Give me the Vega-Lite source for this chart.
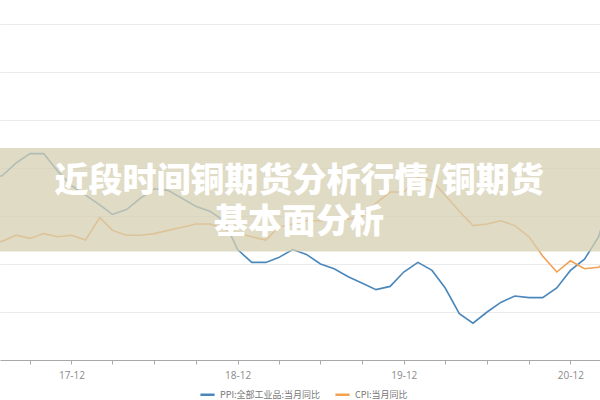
{
  "$schema": "https://vega.github.io/schema/vega-lite/v6.json",
  "width": 600,
  "height": 336,
  "autosize": "none",
  "padding": {"top": 24, "bottom": 40, "left": 0, "right": 0},
  "background": "white",
  "config": {"view": {"stroke": null}},
  "datasets": {
    "series": [
      {"date": "2017/06/01", "s": "PPI:全部工业品:当月同比", "v": 5.5},
      {"date": "2017/07/01", "s": "PPI:全部工业品:当月同比", "v": 5.5},
      {"date": "2017/08/01", "s": "PPI:全部工业品:当月同比", "v": 6.3},
      {"date": "2017/09/01", "s": "PPI:全部工业品:当月同比", "v": 6.9},
      {"date": "2017/10/01", "s": "PPI:全部工业品:当月同比", "v": 6.9},
      {"date": "2017/11/01", "s": "PPI:全部工业品:当月同比", "v": 5.8},
      {"date": "2017/12/01", "s": "PPI:全部工业品:当月同比", "v": 4.9},
      {"date": "2018/01/01", "s": "PPI:全部工业品:当月同比", "v": 4.3},
      {"date": "2018/02/01", "s": "PPI:全部工业品:当月同比", "v": 3.7},
      {"date": "2018/03/01", "s": "PPI:全部工业品:当月同比", "v": 3.1},
      {"date": "2018/04/01", "s": "PPI:全部工业品:当月同比", "v": 3.4},
      {"date": "2018/05/01", "s": "PPI:全部工业品:当月同比", "v": 4.1},
      {"date": "2018/06/01", "s": "PPI:全部工业品:当月同比", "v": 4.7},
      {"date": "2018/07/01", "s": "PPI:全部工业品:当月同比", "v": 4.6},
      {"date": "2018/08/01", "s": "PPI:全部工业品:当月同比", "v": 4.1},
      {"date": "2018/09/01", "s": "PPI:全部工业品:当月同比", "v": 3.6},
      {"date": "2018/10/01", "s": "PPI:全部工业品:当月同比", "v": 3.3},
      {"date": "2018/11/01", "s": "PPI:全部工业品:当月同比", "v": 2.7},
      {"date": "2018/12/01", "s": "PPI:全部工业品:当月同比", "v": 0.9},
      {"date": "2019/01/01", "s": "PPI:全部工业品:当月同比", "v": 0.1},
      {"date": "2019/02/01", "s": "PPI:全部工业品:当月同比", "v": 0.1},
      {"date": "2019/03/01", "s": "PPI:全部工业品:当月同比", "v": 0.4},
      {"date": "2019/04/01", "s": "PPI:全部工业品:当月同比", "v": 0.9},
      {"date": "2019/05/01", "s": "PPI:全部工业品:当月同比", "v": 0.6},
      {"date": "2019/06/01", "s": "PPI:全部工业品:当月同比", "v": 0.0},
      {"date": "2019/07/01", "s": "PPI:全部工业品:当月同比", "v": -0.3},
      {"date": "2019/08/01", "s": "PPI:全部工业品:当月同比", "v": -0.8},
      {"date": "2019/09/01", "s": "PPI:全部工业品:当月同比", "v": -1.2},
      {"date": "2019/10/01", "s": "PPI:全部工业品:当月同比", "v": -1.6},
      {"date": "2019/11/01", "s": "PPI:全部工业品:当月同比", "v": -1.4},
      {"date": "2019/12/01", "s": "PPI:全部工业品:当月同比", "v": -0.5},
      {"date": "2020/01/01", "s": "PPI:全部工业品:当月同比", "v": 0.1},
      {"date": "2020/02/01", "s": "PPI:全部工业品:当月同比", "v": -0.4},
      {"date": "2020/03/01", "s": "PPI:全部工业品:当月同比", "v": -1.5},
      {"date": "2020/04/01", "s": "PPI:全部工业品:当月同比", "v": -3.1},
      {"date": "2020/05/01", "s": "PPI:全部工业品:当月同比", "v": -3.7},
      {"date": "2020/06/01", "s": "PPI:全部工业品:当月同比", "v": -3.0},
      {"date": "2020/07/01", "s": "PPI:全部工业品:当月同比", "v": -2.4},
      {"date": "2020/08/01", "s": "PPI:全部工业品:当月同比", "v": -2.0},
      {"date": "2020/09/01", "s": "PPI:全部工业品:当月同比", "v": -2.1},
      {"date": "2020/10/01", "s": "PPI:全部工业品:当月同比", "v": -2.1},
      {"date": "2020/11/01", "s": "PPI:全部工业品:当月同比", "v": -1.5},
      {"date": "2020/12/01", "s": "PPI:全部工业品:当月同比", "v": -0.4},
      {"date": "2021/01/01", "s": "PPI:全部工业品:当月同比", "v": 0.3},
      {"date": "2021/02/01", "s": "PPI:全部工业品:当月同比", "v": 1.7},
      {"date": "2021/03/01", "s": "PPI:全部工业品:当月同比", "v": 4.4},
      {"date": "2017/06/01", "s": "CPI:当月同比", "v": 1.5},
      {"date": "2017/07/01", "s": "CPI:当月同比", "v": 1.4},
      {"date": "2017/08/01", "s": "CPI:当月同比", "v": 1.8},
      {"date": "2017/09/01", "s": "CPI:当月同比", "v": 1.6},
      {"date": "2017/10/01", "s": "CPI:当月同比", "v": 1.9},
      {"date": "2017/11/01", "s": "CPI:当月同比", "v": 1.7},
      {"date": "2017/12/01", "s": "CPI:当月同比", "v": 1.8},
      {"date": "2018/01/01", "s": "CPI:当月同比", "v": 1.5},
      {"date": "2018/02/01", "s": "CPI:当月同比", "v": 2.9},
      {"date": "2018/03/01", "s": "CPI:当月同比", "v": 2.1},
      {"date": "2018/04/01", "s": "CPI:当月同比", "v": 1.8},
      {"date": "2018/05/01", "s": "CPI:当月同比", "v": 1.8},
      {"date": "2018/06/01", "s": "CPI:当月同比", "v": 1.9},
      {"date": "2018/07/01", "s": "CPI:当月同比", "v": 2.1},
      {"date": "2018/08/01", "s": "CPI:当月同比", "v": 2.3},
      {"date": "2018/09/01", "s": "CPI:当月同比", "v": 2.5},
      {"date": "2018/10/01", "s": "CPI:当月同比", "v": 2.5},
      {"date": "2018/11/01", "s": "CPI:当月同比", "v": 2.2},
      {"date": "2018/12/01", "s": "CPI:当月同比", "v": 1.9},
      {"date": "2019/01/01", "s": "CPI:当月同比", "v": 1.7},
      {"date": "2019/02/01", "s": "CPI:当月同比", "v": 1.5},
      {"date": "2019/03/01", "s": "CPI:当月同比", "v": 2.3},
      {"date": "2019/04/01", "s": "CPI:当月同比", "v": 2.5},
      {"date": "2019/05/01", "s": "CPI:当月同比", "v": 2.7},
      {"date": "2019/06/01", "s": "CPI:当月同比", "v": 2.7},
      {"date": "2019/07/01", "s": "CPI:当月同比", "v": 2.8},
      {"date": "2019/08/01", "s": "CPI:当月同比", "v": 2.8},
      {"date": "2019/09/01", "s": "CPI:当月同比", "v": 3.0},
      {"date": "2019/10/01", "s": "CPI:当月同比", "v": 3.8},
      {"date": "2019/11/01", "s": "CPI:当月同比", "v": 4.5},
      {"date": "2019/12/01", "s": "CPI:当月同比", "v": 4.5},
      {"date": "2020/01/01", "s": "CPI:当月同比", "v": 5.4},
      {"date": "2020/02/01", "s": "CPI:当月同比", "v": 5.2},
      {"date": "2020/03/01", "s": "CPI:当月同比", "v": 4.3},
      {"date": "2020/04/01", "s": "CPI:当月同比", "v": 3.3},
      {"date": "2020/05/01", "s": "CPI:当月同比", "v": 2.4},
      {"date": "2020/06/01", "s": "CPI:当月同比", "v": 2.5},
      {"date": "2020/07/01", "s": "CPI:当月同比", "v": 2.7},
      {"date": "2020/08/01", "s": "CPI:当月同比", "v": 2.4},
      {"date": "2020/09/01", "s": "CPI:当月同比", "v": 1.7},
      {"date": "2020/10/01", "s": "CPI:当月同比", "v": 0.5},
      {"date": "2020/11/01", "s": "CPI:当月同比", "v": -0.5},
      {"date": "2020/12/01", "s": "CPI:当月同比", "v": 0.2},
      {"date": "2021/01/01", "s": "CPI:当月同比", "v": -0.3},
      {"date": "2021/02/01", "s": "CPI:当月同比", "v": -0.2},
      {"date": "2021/03/01", "s": "CPI:当月同比", "v": 0.4}
    ]
  },
  "layer": [
    {
      "data": {"name": "series"},
      "mark": {"type": "line", "strokeWidth": 1.6, "clip": true, "interpolate": "linear"},
      "encoding": {
        "x": {
          "field": "date",
          "type": "temporal",
          "scale": {"domain": [{"year": 2017, "month": 6, "date": 27}, {"year": 2021, "month": 2, "date": 4}]},
          "axis": {
            "title": null,
            "grid": false,
            "values": [
              {"year": 2017, "month": 9, "date": 1},
              {"year": 2017, "month": 12, "date": 1},
              {"year": 2018, "month": 3, "date": 1},
              {"year": 2018, "month": 6, "date": 1},
              {"year": 2018, "month": 9, "date": 1},
              {"year": 2018, "month": 12, "date": 1},
              {"year": 2019, "month": 3, "date": 1},
              {"year": 2019, "month": 6, "date": 1},
              {"year": 2019, "month": 9, "date": 1},
              {"year": 2019, "month": 12, "date": 1},
              {"year": 2020, "month": 3, "date": 1},
              {"year": 2020, "month": 6, "date": 1},
              {"year": 2020, "month": 9, "date": 1},
              {"year": 2020, "month": 12, "date": 1}
            ],
            "labelExpr": "month(datum.value) == 11 ? timeFormat(datum.value, '%y-%m') : ''",
            "domainColor": "#a8a8a8",
            "tickColor": "#a8a8a8",
            "tickSize": 4,
            "labelFontSize": 10,
            "labelColor": "#8a8a8a",
            "labelFont": "Open Sans",
            "labelPadding": 6,
            "labelFlush": false,
            "labelOverlap": false
          }
        },
        "y": {
          "field": "v",
          "type": "quantitative",
          "scale": {"domain": [-6, 15], "nice": false, "zero": false},
          "axis": {
            "title": null,
            "values": [-6, -3, 0, 3, 6, 9, 12, 15],
            "labels": false,
            "ticks": false,
            "domain": false,
            "gridColor": "#ebebeb",
            "gridWidth": 1
          }
        },
        "color": {
          "field": "s",
          "type": "nominal",
          "scale": {"domain": ["PPI:全部工业品:当月同比", "CPI:当月同比"], "range": ["#4a87ba", "#f2a052"]},
          "legend": {
            "title": null,
            "orient": "none",
            "legendX": 199,
            "legendY": 362,
            "direction": "horizontal",
            "symbolType": "stroke",
            "symbolStrokeWidth": 2.5,
            "symbolSize": 200,
            "labelFontSize": 9,
            "labelColor": "#777777",
            "labelFont": "Noto Sans CJK SC",
            "columnPadding": 9
          }
        }
      }
    },
    {
      "data": {"values": [{}]},
      "mark": {"type": "rect", "fill": "#d6cfb2", "opacity": 0.75, "clip": true},
      "encoding": {
        "x": {"datum": {"year": 2017, "month": 6, "date": 27}, "type": "temporal"},
        "x2": {"datum": {"year": 2021, "month": 2, "date": 4}},
        "y": {"datum": 7.25, "type": "quantitative"},
        "y2": {"datum": 0.78}
      }
    },
    {
      "data": {"values": [{}]},
      "mark": {
        "type": "text",
        "text": "近段时间铜期货分析行情/铜期货\n基本面分析",
        "lineBreak": "\n",
        "font": "Noto Sans CJK SC",
        "fontWeight": 900,
        "fontSize": 34,
        "lineHeight": 41,
        "color": "white",
        "align": "center",
        "baseline": "middle"
      },
      "encoding": {
        "x": {"datum": {"year": 2019, "month": 4, "date": 15}, "type": "temporal"},
        "y": {"datum": 5.1, "type": "quantitative"}
      }
    }
  ]
}
